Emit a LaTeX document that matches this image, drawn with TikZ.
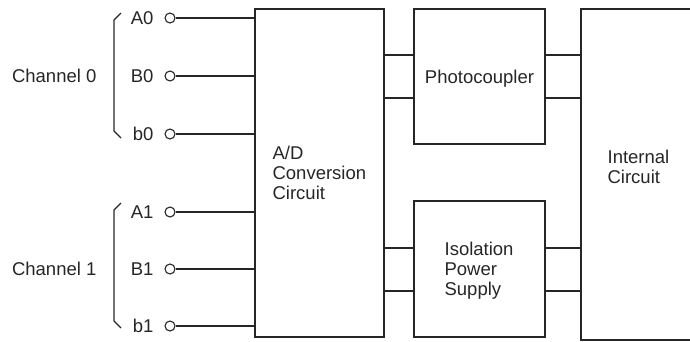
\documentclass[tikz,border=0pt]{standalone}
\usepackage{fontspec}
\setmainfont{Liberation Sans}
\begin{document}
\begin{tikzpicture}[x=1pt,y=-1pt,
  line width=1.2pt, draw=black!85,
  every node/.style={text=black!85},
  lab/.style={inner sep=0pt, font=\fontsize{18.5}{20}\selectfont, align=left},
  blk/.style={draw=black!85, line width=1.2pt, inner sep=0pt, rectangle},
  term/.style={draw=black!85, line width=1.1pt, circle, minimum size=10pt, inner sep=0pt}]
\useasboundingbox (0,0) rectangle (690,341);
\clip (0,0) rectangle (690,341);
% blocks
\node[blk, minimum width=129pt, minimum height=328pt] (ad) at (319.5,173) {};
\node[blk, minimum width=131pt, minimum height=135pt] (pc) at (479.5,76.5) {};
\node[blk, minimum width=131pt, minimum height=136pt] (iso) at (479.5,269) {};
\node[blk, minimum width=160pt, minimum height=331pt] (ic) at (661,174.5) {};
% block texts
\node[lab, anchor=west] (adt) at (272,173) {A/D\\Conversion\\Circuit};
\node[lab] (pct) at (479.5,79) {Photocoupler};
\node[lab, anchor=west] (isot) at (444,271) {Isolation\\Power\\Supply};
\node[lab, anchor=west] (ict) at (607,167) {Internal\\Circuit};
% terminals
\node[term] (a0) at (170,18) {};
\node[term] (b0) at (170,76) {};
\node[term] (c0) at (170,134) {};
\node[term] (a1) at (170,212) {};
\node[term] (b1) at (170,269) {};
\node[term] (c1) at (170,326) {};
\node[lab, anchor=east] (la0) at (154,18) {A0};
\node[lab, anchor=east] (lb0) at (154,76) {B0};
\node[lab, anchor=east] (lc0) at (154,134) {b0};
\node[lab, anchor=east] (la1) at (154,212) {A1};
\node[lab, anchor=east] (lb1) at (154,269) {B1};
\node[lab, anchor=east] (lc1) at (154,326) {b1};
\foreach \t in {a0,b0,c0,a1,b1,c1} \draw (\t) -- (ad.west |- \t);
% channel labels and braces
\node[lab, anchor=east] (ch0) at (97,76) {Channel 0};
\node[lab, anchor=east] (ch1) at (97,269) {Channel 1};
\draw[line width=1.1pt] (121,13) -- (114,20) -- (114,131) -- (121,138);
\draw[line width=1.1pt] (121,203) -- (114,210) -- (114,321) -- (121,328);
% links
\coordinate (y1) at (0,55);
\coordinate (y2) at (0,98);
\coordinate (y3) at (0,248);
\coordinate (y4) at (0,291);
\foreach \y in {y1,y2} {
  \draw (ad.east |- \y) -- (pc.west |- \y);
  \draw (pc.east |- \y) -- (ic.west |- \y);
}
\foreach \y in {y3,y4} {
  \draw (ad.east |- \y) -- (iso.west |- \y);
  \draw (iso.east |- \y) -- (ic.west |- \y);
}
\end{tikzpicture}
\end{document}
